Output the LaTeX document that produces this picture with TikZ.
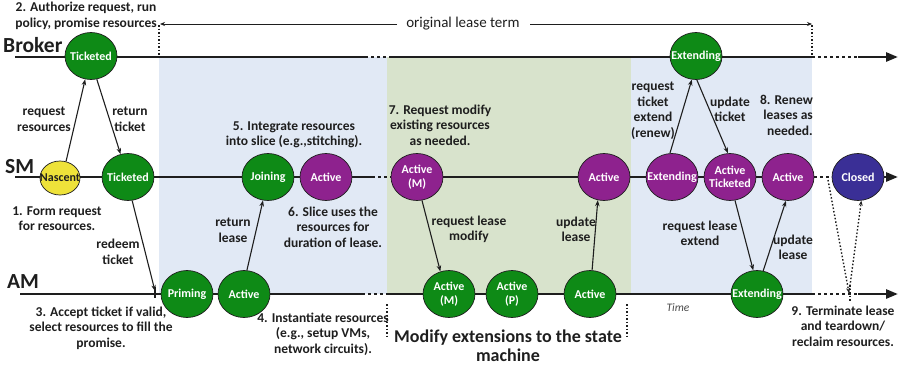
\documentclass[tikz,border=0pt]{standalone}
\usepackage{fontspec}
\setmainfont{Carlito}
\usetikzlibrary{shapes.geometric,arrows.meta}
\definecolor{stgreen}{RGB}{14,138,22}
\definecolor{stpurple}{RGB}{142,34,142}
\definecolor{styellow}{RGB}{238,226,58}
\definecolor{stclosed}{RGB}{58,47,150}
\definecolor{blueR}{RGB}{225,233,245}
\definecolor{greenR}{RGB}{216,227,204}
\definecolor{ink}{RGB}{30,30,30}
\begin{document}
\begin{tikzpicture}[x=1pt,y=-1pt,
  st/.style={ellipse,draw=ink,line width=0.7pt,minimum width=52pt,minimum height=47pt,inner xsep=-7pt,inner ysep=0pt,text=white,font=\fontsize{12}{13.5}\selectfont\bfseries,align=center},
  gst/.style={st,fill=stgreen},
  pst/.style={st,fill=stpurple},
  lbl/.style={font=\fontsize{13.5}{15.5}\selectfont\bfseries,align=center,text=ink,inner sep=0pt},
  big/.style={font=\fontsize{21.5}{24}\selectfont\bfseries,text=ink,inner sep=0pt},
  tl/.style={line width=2.6pt,draw=ink},
  dl/.style={line width=2.6pt,draw=ink,dash pattern=on 3pt off 3pt},
  endarrow/.style={-{Triangle[length=12pt,width=9pt]}},
  conn/.style={line width=1.1pt,draw=ink,-{Stealth[length=6pt,width=4.5pt]}},
  dots/.style={line width=1.4pt,draw=ink,dash pattern=on 1.5pt off 2pt},
]
\useasboundingbox (0,0) rectangle (901,368);
% shaded periods
\fill[blueR] (159,57) rectangle (387,294);
\fill[greenR] (387,57) rectangle (631,294);
\fill[blueR] (631,57) rectangle (812,294);

% timelines
\draw[tl] (15,57) -- (365,57);
\draw[dl] (365,57) -- (390,57);
\draw[tl] (390,57) -- (812,57);
\draw[dl] (812,57) -- (858,57);
\draw[tl,endarrow] (858,57) -- (898,57);

\draw[tl] (15,177) -- (372,177);
\draw[dl] (372,177) -- (390,177);
\draw[tl] (390,177) -- (814,177);
\draw[dl] (814,177) -- (832,177);
\draw[tl,endarrow] (832,177) -- (898,177);

\draw[tl] (20,294) -- (362,294);
\draw[dl] (362,294) -- (387,294);
\draw[tl] (387,294) -- (812,294);
\draw[dl] (812,294) -- (858,294);
\draw[tl,endarrow] (858,294) -- (898,294);

% lane titles
\node[big,anchor=base west] (broker) at (3,52) {Broker};
\node[big,anchor=base west] (smt) at (5,173) {SM};
\node[big,anchor=base west] (amt) at (7,288) {AM};

% original lease term
\node[font=\fontsize{15}{17}\selectfont,text=ink,inner sep=0pt] (olt) at (463,24) {original lease term};
\coordinate (oltL) at (160,24);
\coordinate (oltR) at (812,24);
\draw[line width=0.8pt,draw=ink,-{Stealth[length=5pt,width=4pt]}] (397,24) -- (oltL);
\draw[line width=0.8pt,draw=ink,-{Stealth[length=5pt,width=4pt]}] (530,24) -- (oltR);
\draw[dots] (159,25) -- (159,57);
\draw[dots] (812,25) -- (812,57);
\draw[dots] (387,304) -- (387,336);
\draw[dots] (627,304) -- (627,336);

% Broker states
\node[gst] (bT) at (91,56) {Ticketed};
\node[gst] (bE) at (696,56) {Extending};

% SM states
\node[st,fill=styellow,text=ink,minimum width=40pt,minimum height=34pt] (sN) at (60,178) {Nascent};
\node[gst] (sT) at (128,177) {Ticketed};
\node[gst] (sJ) at (268,177) {Joining};
\node[pst] (sA1) at (326,177) {Active};
\node[pst] (sAM) at (417,177) {Active\\(M)};
\node[pst] (sA2) at (604,177) {Active};
\node[pst] (sE) at (672,177) {Extending};
\node[pst] (sAT) at (730,177) {Active\\Ticketed};
\node[pst] (sA3) at (788,177) {Active};
\node[st,fill=stclosed] (sC) at (858,177) {Closed};

% AM states
\node[gst] (aP) at (187,294) {Priming};
\node[gst] (aA) at (244,294) {Active};
\node[gst] (aAM) at (449,294) {Active\\(M)};
\node[gst] (aAP) at (512,294) {Active\\(P)};
\node[gst] (aA2) at (590,294) {Active};
\node[gst] (aE) at (757,294) {Extending};

% connectors
\coordinate (redeemEnd) at (155,291);
\draw[conn] (sN.70) -- (bT.256);
\draw[conn] (bT.284) -- (sT.108);
\draw[conn] (sT.280) -- (redeemEnd);
\draw[line width=1.8pt,draw=ink] (155,287) -- (155,298);
\draw[conn] (aA.83) -- (sJ.258);
\draw[conn] (sAM.282) -- (aAM.111);
\draw[conn] (aA2.85) -- (sA2.255);
\draw[conn] (sE.95) -- (bE.260);
\draw[conn] (bE.272) -- (sAT.95);
\draw[conn] (sAT.282) -- (aE.99);
\draw[conn] (aE.75) -- (sA3.265);
\coordinate (termS) at (828,180);
\coordinate (termA) at (849,293);
\draw[dots,-{Stealth[length=5pt,width=4pt]}] (termS) -- (termA);
\draw[dots,-{Stealth[length=5pt,width=4pt]}] (termA) -- (sC.278);
\draw[dots] (850,285) -- (850,302);

% labels
\node[lbl] (l2) at (86,16) {2. Authorize request, run\\policy, promise resources};
\node[lbl] (lrr) at (44,119.5) {request\\resources};
\node[lbl] (lrt) at (130,119.5) {return\\ticket};
\node[lbl] (l1) at (57,218.5) {1. Form request\\for resources.};
\node[lbl] (lrd) at (118,252) {redeem\\ticket};
\node[lbl] (l3) at (101,328) {3. Accept ticket if valid,\\select resources to fill the\\promise.};
\node[lbl] (lrl) at (233,230.5) {return\\lease};
\node[lbl] (l5) at (294,135) {5. Integrate resources\\into slice (e.g.,stitching).};
\node[lbl] (l6) at (333,227) {6. Slice uses the\\resources for\\duration of lease.};
\node[lbl] (l4) at (323,334) {4. Instantiate resources\\(e.g., setup VMs,\\network circuits).};
\node[lbl] (l7) at (440,125) {7. Request modify\\existing resources\\as needed.};
\node[lbl] (lrm) at (469,229.5) {request lease\\modify};
\node[lbl] (lul) at (576,229.5) {update\\lease};
\node[lbl,font=\fontsize{18}{19.5}\selectfont\bfseries] (lmod) at (508,345.5) {Modify extensions to the state\\machine};
\node[lbl] (lrte) at (653,111) {request\\ticket\\extend\\(renew)};
\node[lbl] (lut) at (730,109.5) {update\\ticket};
\node[lbl,align=right,anchor=east] (l8) at (813,115) {8. Renew\\leases as\\needed.};
\node[lbl] (lrle) at (700,233.5) {request lease\\extend};
\node[lbl] (lul2) at (793,247.5) {update\\lease};
\node[lbl] (l9) at (843,326) {9. Terminate lease\\and teardown/\\reclaim resources.};
\node[font=\fontsize{11.5}{13}\selectfont\itshape,text=ink!80,inner sep=0pt] (ltime) at (678,308) {Time};
\end{tikzpicture}
\end{document}
